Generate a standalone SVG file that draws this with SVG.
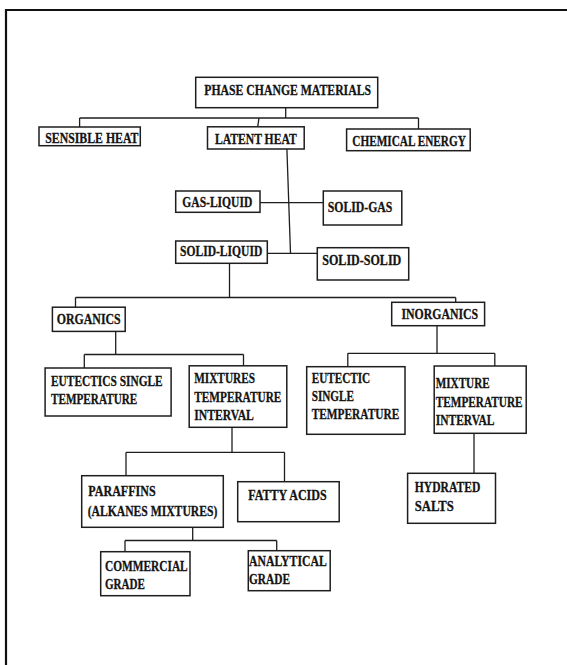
<svg xmlns="http://www.w3.org/2000/svg" width="567" height="665" viewBox="0 0 567 665">
<style>
.bg{fill:#ffffff}
.frame{fill:none;stroke:#111;stroke-width:2.2}
.box{fill:#ffffff;stroke:#1e1e1e;stroke-width:1.5}
.ln{fill:none;stroke:#1e1e1e;stroke-width:1.3}
text{font-family:"Liberation Serif","Times New Roman",serif;font-weight:bold;font-size:15.5px;fill:#141414;stroke:#141414;stroke-width:0.3}
</style>
<rect class="bg" x="0" y="0" width="567" height="665"/>
<path class="frame" d="M6,665 V10 H567"/>
<g id="connectors">
<path class="ln" d="M285.7,107.7 V118"/>
<path class="ln" d="M79.6,118 H418.5"/>
<path class="ln" d="M79.6,118 V127"/>
<path class="ln" d="M259,118 L257.7,126.8"/>
<path class="ln" d="M418.5,118 V129"/>
<path class="ln" d="M286.9,149 L290.5,253.3"/>
<path class="ln" d="M260,202.7 H323.3"/>
<path class="ln" d="M267.3,253.3 H317.3"/>
<path class="ln" d="M229.5,263.3 V297.5"/>
<path class="ln" d="M75.5,297.5 H455.7"/>
<path class="ln" d="M75.5,297.5 V307.2"/>
<path class="ln" d="M455.7,297.5 V302.3"/>
<path class="ln" d="M115.7,331.4 V354.5"/>
<path class="ln" d="M84.3,354.5 H243.5"/>
<path class="ln" d="M84.3,354.5 V368"/>
<path class="ln" d="M243.5,354.5 V365.8"/>
<path class="ln" d="M437,325.7 V353.3"/>
<path class="ln" d="M347.8,353.3 H494.8"/>
<path class="ln" d="M347.8,353.3 V366.7"/>
<path class="ln" d="M494.8,353.3 V366"/>
<path class="ln" d="M232,427.3 V452.3"/>
<path class="ln" d="M126,452.3 H284.5"/>
<path class="ln" d="M126,452.3 V475.7"/>
<path class="ln" d="M284.5,452.3 V481.7"/>
<path class="ln" d="M474,433.3 V473.3"/>
<path class="ln" d="M192.7,527.3 V540.5"/>
<path class="ln" d="M125,540.5 H276.7"/>
<path class="ln" d="M125,540.5 V551.7"/>
<path class="ln" d="M276.7,540.5 V550.7"/>
</g>
<g id="pcm"><rect class="box" x="195.7" y="77.3" width="182" height="30.4"/><text x="204.3" y="94.5" textLength="166.7" lengthAdjust="spacingAndGlyphs">PHASE CHANGE MATERIALS</text></g>
<g id="sensible"><rect class="box" x="39" y="127" width="101.3" height="18.7"/><text x="45.2" y="142.7" textLength="93.3" lengthAdjust="spacingAndGlyphs">SENSIBLE HEAT</text></g>
<g id="latent"><rect class="box" x="207.5" y="126.8" width="96.7" height="22.2"/><text x="215" y="144.3" textLength="81.7" lengthAdjust="spacingAndGlyphs">LATENT HEAT</text></g>
<g id="chemical"><rect class="box" x="346.6" y="129" width="123.6" height="21.7"/><text x="352.3" y="146" textLength="113.5" lengthAdjust="spacingAndGlyphs">CHEMICAL ENERGY</text></g>
<g id="gasliquid"><rect class="box" x="175.7" y="191" width="84.3" height="21.3"/><text x="182.3" y="206.7" textLength="70" lengthAdjust="spacingAndGlyphs">GAS-LIQUID</text></g>
<g id="solidgas"><rect class="box" x="323.3" y="191" width="78.5" height="34"/><text x="327.7" y="212.3" textLength="64.7" lengthAdjust="spacingAndGlyphs">SOLID-GAS</text></g>
<g id="solidliquid"><rect class="box" x="175.7" y="241" width="91.6" height="22.3"/><text x="180" y="256" textLength="82.3" lengthAdjust="spacingAndGlyphs">SOLID-LIQUID</text></g>
<g id="solidsolid"><rect class="box" x="317.3" y="247.7" width="91.4" height="32.3"/><text x="322.3" y="265" textLength="79" lengthAdjust="spacingAndGlyphs">SOLID-SOLID</text></g>
<g id="organics"><rect class="box" x="52.4" y="307.2" width="72.8" height="24.2"/><text x="56.7" y="324.3" textLength="64" lengthAdjust="spacingAndGlyphs">ORGANICS</text></g>
<g id="inorganics"><rect class="box" x="391.7" y="302.3" width="92.9" height="23.4"/><text x="401.4" y="319.3" textLength="76.7" lengthAdjust="spacingAndGlyphs">INORGANICS</text></g>
<g id="eutectics"><rect class="box" x="45.1" y="368" width="126" height="48"/><text x="51" y="385.7" textLength="111.7" lengthAdjust="spacingAndGlyphs">EUTECTICS SINGLE</text><text x="51" y="403.7" textLength="86.3" lengthAdjust="spacingAndGlyphs">TEMPERATURE</text></g>
<g id="mixtures"><rect class="box" x="189.2" y="365.8" width="97.6" height="61.5"/><text x="194.2" y="383" textLength="60.8" lengthAdjust="spacingAndGlyphs">MIXTURES</text><text x="194.2" y="401.5" textLength="87.2" lengthAdjust="spacingAndGlyphs">TEMPERATURE</text><text x="194.2" y="420" textLength="59.7" lengthAdjust="spacingAndGlyphs">INTERVAL</text></g>
<g id="eutectic"><rect class="box" x="306.7" y="366.7" width="98.3" height="67.6"/><text x="311.7" y="382.7" textLength="58.5" lengthAdjust="spacingAndGlyphs">EUTECTIC</text><text x="311.7" y="401" textLength="42.3" lengthAdjust="spacingAndGlyphs">SINGLE</text><text x="311.7" y="419.3" textLength="87.6" lengthAdjust="spacingAndGlyphs">TEMPERATURE</text></g>
<g id="mixture"><rect class="box" x="434.2" y="366" width="92" height="67.3"/><text x="435.7" y="387.7" textLength="54" lengthAdjust="spacingAndGlyphs">MIXTURE</text><text x="435.7" y="406.5" textLength="86.9" lengthAdjust="spacingAndGlyphs">TEMPERATURE</text><text x="435.7" y="425.2" textLength="58.8" lengthAdjust="spacingAndGlyphs">INTERVAL</text></g>
<g id="paraffins"><rect class="box" x="81.7" y="475.7" width="141.6" height="51.6"/><text x="88.3" y="496" textLength="67.4" lengthAdjust="spacingAndGlyphs">PARAFFINS</text><text x="87.7" y="515.5" textLength="129.6" lengthAdjust="spacingAndGlyphs">(ALKANES MIXTURES)</text></g>
<g id="fatty"><rect class="box" x="237.7" y="481.7" width="101.5" height="40"/><text x="248.3" y="500" textLength="78.4" lengthAdjust="spacingAndGlyphs">FATTY ACIDS</text></g>
<g id="hydrated"><rect class="box" x="407.6" y="473.3" width="87.9" height="50"/><text x="414.8" y="492.3" textLength="65.5" lengthAdjust="spacingAndGlyphs">HYDRATED</text><text x="414.8" y="510.7" textLength="39.1" lengthAdjust="spacingAndGlyphs">SALTS</text></g>
<g id="commercial"><rect class="box" x="100.7" y="551.7" width="89.3" height="44"/><text x="105" y="570.7" textLength="82.7" lengthAdjust="spacingAndGlyphs">COMMERCIAL</text><text x="105" y="589" textLength="40" lengthAdjust="spacingAndGlyphs">GRADE</text></g>
<g id="analytical"><rect class="box" x="248.3" y="550.7" width="81.9" height="40"/><text x="249" y="566" textLength="77.7" lengthAdjust="spacingAndGlyphs">ANALYTICAL</text><text x="249" y="584.3" textLength="41" lengthAdjust="spacingAndGlyphs">GRADE</text></g>
</svg>
